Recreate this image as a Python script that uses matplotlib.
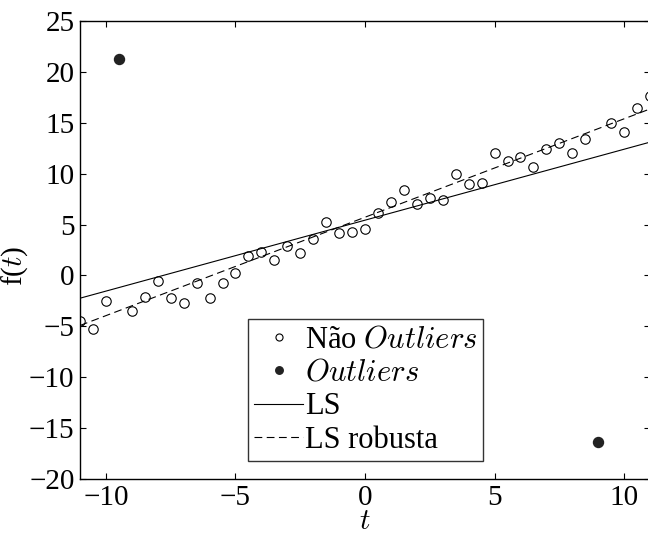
"""Scatter with LS and robust LS fits, outliers highlighted."""

import matplotlib

matplotlib.use("Agg")
import matplotlib.pyplot as plt

# points that are not outliers
t_inliers = [-11, -10.5, -10, -9, -8.5, -8, -7.5, -7, -6.5, -6, -5.5, -5,
             -4.5, -4, -3.5, -3, -2.5, -2, -1.5, -1, -0.5, 0, 0.5, 1, 1.5,
             2, 2.5, 3, 3.5, 4, 4.5, 5, 5.5, 6, 6.5, 7, 7.5, 8, 8.5, 9.5,
             10, 10.5, 11]
f_inliers = [-4.43, -5.3, -2.56, -3.5, -2.07, -0.56, -2.23, -2.72, -0.79,
             -2.2, -0.75, 0.23, 1.87, 2.33, 1.54, 2.85, 2.23, 3.54, 5.28,
             4.17, 4.26, 4.6, 6.17, 7.25, 8.43, 7.05, 7.64, 7.45, 10.0,
             8.96, 9.08, 12.0, 11.2, 11.68, 10.66, 12.47, 13.02, 12.04,
             13.36, 15.0, 14.1, 16.5, 17.6]

# outliers
t_outliers = [-9.5, 9]
f_outliers = [21.3, -16.4]

# fitted lines (slope, intercept)
ls_fit = (0.697, 5.43)
robust_fit = (0.967, 5.72)
t_range = [-11, 11]

x_ticks = [-10, -5, 0, 5, 10]
y_ticks = [-20, -15, -10, -5, 0, 5, 10, 15, 20, 25]

plt.rcParams["font.family"] = ["Liberation Serif", "DejaVu Serif"]
plt.rcParams["mathtext.fontset"] = "cm"
plt.rcParams["axes.unicode_minus"] = True

fig = plt.figure(figsize=(6.48, 5.35), dpi=100)
ax = fig.add_axes([80 / 648, 56 / 535, 570 / 648, 458 / 535])

ax.plot(t_inliers, f_inliers, "o", mfc="white", mec="black", ms=6.8, mew=0.8,
        label="Não $\\mathit{Outliers}$")
ax.plot(t_outliers, f_outliers, "o", mfc="#222222", mec="#222222", ms=7.2,
        label="$\\mathit{Outliers}$")

ls_y = [ls_fit[0] * t + ls_fit[1] for t in t_range]
rob_y = [robust_fit[0] * t + robust_fit[1] for t in t_range]
ax.plot(t_range, ls_y, "-", color="black", lw=0.8, label="LS")
ax.plot(t_range, rob_y, "--", color="black", lw=0.8, dashes=(7, 4),
        label="LS robusta")

ax.set_xlim(-11, 11)
ax.set_ylim(-20, 25)
ax.set_xticks(x_ticks)
ax.set_yticks(y_ticks)
ax.tick_params(direction="in", length=4, width=0.8, top=True, right=True,
               labelsize=21, pad=4)
for sp in ax.spines.values():
    sp.set_linewidth(1.0)

ax.set_xlabel("$t$", fontsize=21)
ax.set_ylabel("f($t$)", fontsize=21)
ax.xaxis.set_label_coords(0.5, -0.066)
ax.yaxis.set_label_coords(-0.088, 0.465)

leg = ax.legend(loc="lower left", bbox_to_anchor=(0.295, 0.039), fontsize=22,
                frameon=True, fancybox=False, edgecolor="black",
                handlelength=1.6, handletextpad=0.05, borderpad=0.2,
                labelspacing=0.15, borderaxespad=0, markerscale=0.75)
leg.get_frame().set_linewidth(1.0)

fig.savefig("out.png", dpi=100)
